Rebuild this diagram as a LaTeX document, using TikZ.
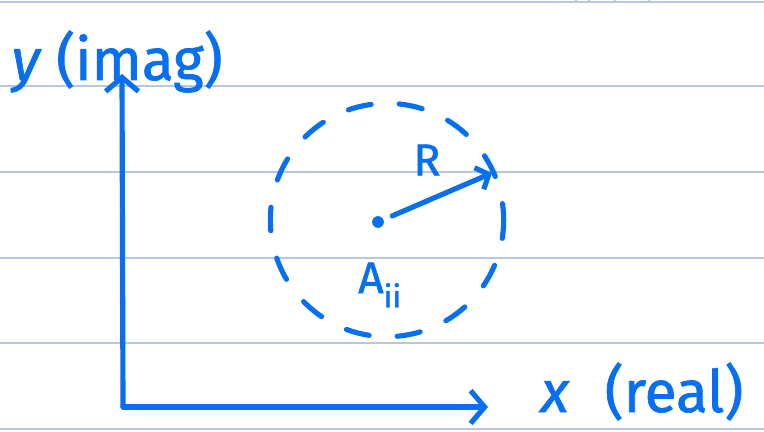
\documentclass[tikz,border=0pt]{standalone}
\usepackage{fontspec}
\setmainfont{Fira Sans}
\newfontfamily\handfont[FakeBold=1.2]{Fira Sans}
\usetikzlibrary{arrows.meta, positioning}
\definecolor{penblue}{RGB}{8,112,240}
\definecolor{ruleline}{RGB}{186,198,220}

\begin{document}
\begin{tikzpicture}[x=0.03cm, y=-0.03cm,
    pen/.style={penblue, line width=4.4pt, line cap=round, line join=round},
    bigtip/.style={-{Straight Barb[length=12pt, width=28pt, line width=4.4pt]}},
    smalltip/.style={-{Straight Barb[length=9pt, width=20pt, line width=4.4pt]}},
    hand/.style={text=penblue, font=\handfont\fontsize{50}{56}\selectfont, inner sep=0pt}]
    \useasboundingbox (0,0) rectangle (764,432);
    % ruled paper
    \foreach \ly in {2,86,172,258,343,429}
      \draw[ruleline, line width=0.9pt] (0,\ly) -- (764,\ly);
    % stray marks at the top edge
    \foreach \mx in {575,588,614,648}
      \draw[pen] (\mx,-6) -- (\mx+1,-2);

    % axes
    \coordinate (orig) at (123,407);
    \coordinate (ytip) at (122,74);
    \coordinate (xtip) at (488,407);
    \draw[pen, bigtip] (orig) -- (ytip);
    \draw[pen, bigtip] (orig) -- (xtip);
    \node[hand, anchor=base] (ylab) at (117,80) {\textit{y}\hspace{0.25em}(imag)};
    \node[hand, anchor=base] (xlab) at (642,412) {\textit{x}\hspace{0.6em}(real)};

    % disc around the diagonal entry
    \coordinate (disc) at (387,220);
    \draw[pen, dash pattern=on 20pt off 24pt, dash phase=6pt] (disc) circle[radius=3.5cm];
    \node[circle, fill=penblue, minimum size=10pt, inner sep=0pt] (ctr) at (378,222) {};
    \coordinate (rtip) at (492,173);
    \draw[pen, smalltip, shorten <=8pt] (ctr) -- (rtip);
    \node[hand, font=\handfont\fontsize{38}{42}\selectfont] (rlab) at (427,160) {R};
    \node[hand, font=\handfont\fontsize{38}{42}\selectfont] (alab) at (380,285) {A\textsubscript{ii}};
\end{tikzpicture}
\end{document}
